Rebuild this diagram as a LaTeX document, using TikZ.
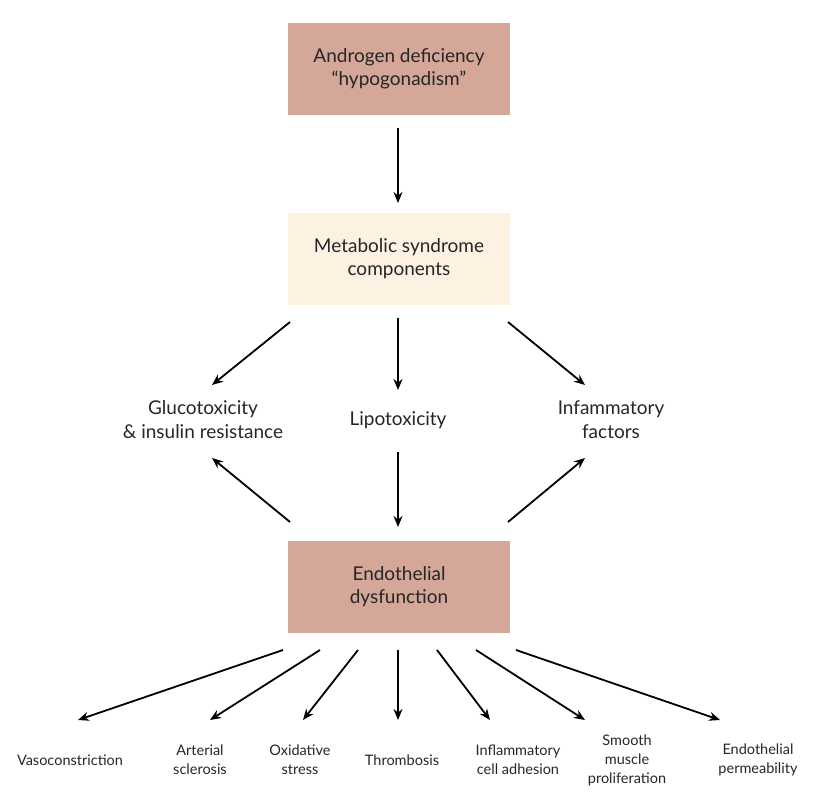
\documentclass[tikz,border=0pt]{standalone}
\usepackage{fontspec}
\setmainfont{Lato}
\usetikzlibrary{arrows.meta}
\definecolor{rose}{HTML}{D4A798}
\definecolor{cream}{HTML}{FDF1E2}
\begin{document}
\begin{tikzpicture}[x=1pt,y=-1pt,
  box/.style={minimum width=222pt,minimum height=92pt,align=center,font=\fontsize{19}{23}\selectfont,text=black!85},
  lbl/.style={align=center,font=\fontsize{19}{24}\selectfont,text=black!85},
  sm/.style={align=center,font=\fontsize{14.5}{19}\selectfont,text=black!85},
  arr/.style={-{Stealth[length=11pt,width=9pt]},line width=1.8pt}]
\useasboundingbox (0,0) rectangle (828,800);
\node[box,fill=rose] (top) at (399,69) {Androgen deficiency\\“hypogonadism”};
\node[box,fill=cream] (mid) at (399,259) {Metabolic syndrome\\components};
\node[box,fill=rose] (bot) at (399,587) {Endothelial\\dysfunction};
\node[lbl] (glu) at (203,420) {Glucotoxicity\\\& insulin resistance};
\node[lbl] (lip) at (398,420) {Lipotoxicity};
\node[lbl] (inf) at (611,420) {Infammatory\\factors};
\node[sm] (v1) at (70,760) {Vasoconstriction};
\node[sm] (v2) at (200,760) {Arterial\\sclerosis};
\node[sm] (v3) at (300,760) {Oxidative\\stress};
\node[sm] (v4) at (402,760) {Thrombosis};
\node[sm] (v5) at (518,760) {Inflammatory\\cell adhesion};
\node[sm] (v6) at (627,760) {Smooth\\muscle\\proliferation};
\node[sm] (v7) at (758,760) {Endothelial\\permeability};
\foreach \n/\a/\b in {a1/398,128/a2/398,203,
  b1/290,322/b2/212,385, c1/398,318/c2/398,390, d1/508,322/d2/585,385,
  e1/290,522/e2/212,458, f1/398,452/f2/398,527, g1/508,522/g2/585,458,
  h1/283,650/h2/78,720, i1/320,650/i2/210,720, j1/358,650/j2/303,720,
  k1/398,650/k2/398,720, l1/437,650/l2/490,720, m1/476,650/m2/585,720,
  n1/516,650/n2/720,720}{}
\coordinate (a1) at (398,128); \coordinate (a2) at (398,203);
\coordinate (b1) at (290,322); \coordinate (b2) at (212,385);
\coordinate (c1) at (398,318); \coordinate (c2) at (398,390);
\coordinate (d1) at (508,322); \coordinate (d2) at (585,385);
\coordinate (e1) at (290,522); \coordinate (e2) at (212,458);
\coordinate (f1) at (398,452); \coordinate (f2) at (398,527);
\coordinate (g1) at (508,522); \coordinate (g2) at (585,458);
\coordinate (h1) at (283,650); \coordinate (h2) at (78,720);
\coordinate (i1) at (320,650); \coordinate (i2) at (210,720);
\coordinate (j1) at (358,650); \coordinate (j2) at (303,720);
\coordinate (k1) at (398,650); \coordinate (k2) at (398,720);
\coordinate (l1) at (437,650); \coordinate (l2) at (490,720);
\coordinate (m1) at (476,650); \coordinate (m2) at (585,720);
\coordinate (n1) at (516,650); \coordinate (n2) at (720,720);
\foreach \p in {a,b,c,d,e,f,g,h,i,j,k,l,m,n}{\draw[arr] (\p1) -- (\p2);}
\end{tikzpicture}
\end{document}
